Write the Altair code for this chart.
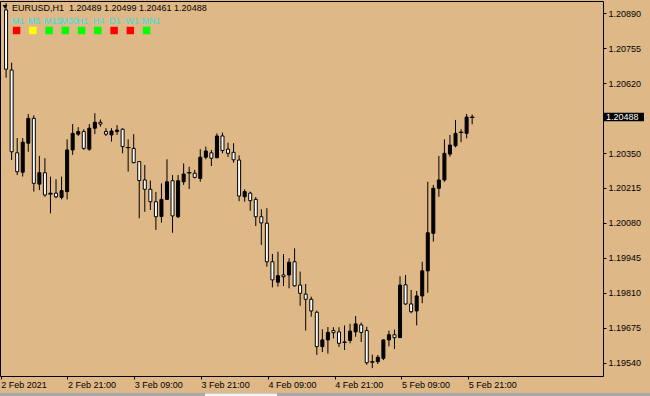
import altair as alt
import pandas as pd

# ---------------- data (EURUSD H1) ----------------
symbol_title = "EURUSD,H1\u00a0\u00a01.20489 1.20499 1.20461 1.20488"

opens = [1.20903, 1.20671, 1.20351, 1.20276, 1.20388, 1.20484, 1.20230, 1.20274, 1.20195, 1.20195,
         1.20179, 1.20201, 1.20362, 1.20423, 1.20433, 1.20365, 1.20446, 1.20469, 1.20433, 1.20420,
         1.20433, 1.20442, 1.20371, 1.20368, 1.20317, 1.20246, 1.20210, 1.20162, 1.20105, 1.20171,
         1.20243, 1.20104, 1.20239, 1.20274, 1.20272, 1.20252, 1.20334, 1.20351, 1.20332, 1.20416,
         1.20365, 1.20353, 1.20323, 1.20181, 1.20195, 1.20171, 1.20104, 1.20079, 1.19930, 1.19851,
         1.19879, 1.19879, 1.19930, 1.19840, 1.19805, 1.19785, 1.19735, 1.19602, 1.19628, 1.19664,
         1.19659, 1.19619, 1.19626, 1.19659, 1.19686, 1.19664, 1.19543, 1.19544, 1.19557, 1.19628,
         1.19648, 1.19637, 1.19841, 1.19767, 1.19740, 1.19798, 1.19895, 1.20040, 1.20214, 1.20246,
         1.20346, 1.20378, 1.20430, 1.20426, 1.20489]
highs = [1.20930, 1.20699, 1.20408, 1.20408, 1.20501, 1.20496, 1.20339, 1.20330, 1.20259, 1.20249,
         1.20259, 1.20403, 1.20462, 1.20450, 1.20442, 1.20462, 1.20504, 1.20480, 1.20446, 1.20446,
         1.20458, 1.20446, 1.20403, 1.20423, 1.20319, 1.20304, 1.20244, 1.20200, 1.20233, 1.20326,
         1.20265, 1.20265, 1.20310, 1.20297, 1.20285, 1.20365, 1.20375, 1.20362, 1.20426, 1.20429,
         1.20390, 1.20388, 1.20341, 1.20210, 1.20201, 1.20180, 1.20133, 1.20137, 1.19960, 1.19969,
         1.19960, 1.19943, 1.19982, 1.19892, 1.19844, 1.19795, 1.19741, 1.19669, 1.19678, 1.19677,
         1.19677, 1.19684, 1.19690, 1.19720, 1.19695, 1.19679, 1.19571, 1.19570, 1.19630, 1.19664,
         1.19668, 1.19874, 1.19879, 1.19821, 1.19817, 1.19930, 1.20239, 1.20227, 1.20339, 1.20403,
         1.20420, 1.20478, 1.20442, 1.20501, 1.20499]
lows = [1.20641, 1.20323, 1.20265, 1.20259, 1.20355, 1.20201, 1.20207, 1.20181, 1.20117, 1.20175,
        1.20171, 1.20171, 1.20343, 1.20416, 1.20362, 1.20359, 1.20423, 1.20452, 1.20416, 1.20394,
        1.20420, 1.20349, 1.20278, 1.20310, 1.20098, 1.20123, 1.20130, 1.20053, 1.20081, 1.20169,
        1.20042, 1.20099, 1.20227, 1.20211, 1.20252, 1.20239, 1.20326, 1.20300, 1.20330, 1.20349,
        1.20335, 1.20313, 1.20164, 1.20162, 1.20127, 1.20068, 1.19995, 1.19911, 1.19831, 1.19834,
        1.19836, 1.19827, 1.19834, 1.19760, 1.19664, 1.19718, 1.19570, 1.19581, 1.19575, 1.19634,
        1.19601, 1.19589, 1.19615, 1.19640, 1.19620, 1.19532, 1.19519, 1.19535, 1.19550, 1.19603,
        1.19593, 1.19635, 1.19763, 1.19731, 1.19684, 1.19770, 1.19810, 1.20008, 1.20181, 1.20239,
        1.20336, 1.20372, 1.20392, 1.20407, 1.20461]
closes = [1.20674, 1.20355, 1.20278, 1.20392, 1.20484, 1.20233, 1.20274, 1.20188, 1.20192, 1.20181,
          1.20205, 1.20362, 1.20426, 1.20433, 1.20368, 1.20446, 1.20469, 1.20462, 1.20423, 1.20435,
          1.20439, 1.20375, 1.20371, 1.20313, 1.20244, 1.20210, 1.20162, 1.20104, 1.20171, 1.20239,
          1.20107, 1.20243, 1.20269, 1.20274, 1.20256, 1.20334, 1.20358, 1.20330, 1.20416, 1.20360,
          1.20349, 1.20324, 1.20184, 1.20201, 1.20166, 1.20104, 1.20080, 1.19930, 1.19860, 1.19876,
          1.19872, 1.19928, 1.19837, 1.19808, 1.19785, 1.19740, 1.19602, 1.19628, 1.19657, 1.19656,
          1.19615, 1.19619, 1.19662, 1.19690, 1.19657, 1.19540, 1.19543, 1.19561, 1.19628, 1.19648,
          1.19637, 1.19840, 1.19767, 1.19737, 1.19798, 1.19895, 1.20042, 1.20214, 1.20246, 1.20349,
          1.20381, 1.20426, 1.20430, 1.20489, 1.20488]

time_labels = ["2 Feb 2021", "2 Feb 21:00", "3 Feb 09:00", "3 Feb 21:00",
               "4 Feb 09:00", "4 Feb 21:00", "5 Feb 09:00", "5 Feb 21:00"]
hours_per_label = 12
price_ticks = [1.19540, 1.19675, 1.19810, 1.19945, 1.20080, 1.20215,
               1.20350, 1.20620, 1.20755, 1.20890]
price_range = [1.194886, 1.209375]
bar_slots = [-0.195, 106.68]      # visible bar slots across the plot
hour_span = [-0.126, 108.2]       # visible hours across the plot (time axis)

timeframes = ["M1", "M5", "M15", "M30", "H1", "H4", "D1", "W1", "MN1"]
tf_colors = ["#FF0000", "#FFFF00", "#00FF00", "#00FF00", "#00FF00",
             "#00FF00", "#FF0000", "#FF0000", "#00FF00"]

BG = "#DEB887"
FONT = "Liberation Sans"

# ---------------- frames ----------------
n = len(closes)
df = pd.DataFrame({"idx": list(range(n)), "open": opens, "high": highs,
                   "low": lows, "close": closes})
df["fill"] = ["#000000" if c >= o else "#FFFFFF" for o, c in zip(opens, closes)]
df["doji"] = [abs(c - o) < 0.00003 for o, c in zip(opens, closes)]

last = pd.DataFrame({"price": [closes[-1]], "label": [f"{closes[-1]:.5f}"]})
tf_df = pd.DataFrame({"i": list(range(len(timeframes))), "tf": timeframes, "color": tf_colors})
title_df = pd.DataFrame({"t": [symbol_title]})
hours_df = pd.DataFrame({"h": [i * hours_per_label for i in range(len(time_labels))],
                         "lab": time_labels})

label_expr = ("[" + ",".join(f"'{s}'" for s in time_labels) +
              f"][round(datum.value/{hours_per_label})]")

x_bar = alt.X("idx:Q", scale=alt.Scale(domain=bar_slots, nice=False, zero=False), axis=None)
y_scale = alt.Scale(domain=price_range, nice=False, zero=False)
y_enc = alt.Y("low:Q", scale=y_scale,
              axis=alt.Axis(orient="right", values=price_ticks, format=".5f", title=None,
                            grid=False, domain=False, tickSize=3, tickColor="black",
                            labelPadding=2, labelFlush=False, labelOverlap=False,
                            labelBound=False))

base = alt.Chart(df)
wicks = base.mark_rule(color="black", strokeWidth=1).encode(x=x_bar, y=y_enc, y2="high:Q")
bodies = base.mark_bar(size=3, stroke="black", strokeWidth=1).encode(
    x="idx:Q", y=alt.Y("open:Q", scale=y_scale), y2="close:Q",
    fill=alt.Fill("fill:N", scale=None))
dojis = base.transform_filter("datum.doji").mark_tick(
    color="black", thickness=1, size=5, orient="horizontal").encode(
    x="idx:Q", y=alt.Y("close:Q", scale=y_scale))

price_box = alt.Chart(last).mark_rect(color="black", yOffset=-4.5, y2Offset=4).encode(
    x=alt.value(604), x2=alt.value(644), y=alt.Y("price:Q", scale=y_scale), y2="price:Q")
price_txt = alt.Chart(last).mark_text(color="white", align="left", baseline="middle",
                                      font=FONT, fontSize=9).encode(
    x=alt.value(606), y=alt.Y("price:Q", scale=y_scale), text="label:N")

main = alt.layer(wicks, bodies, dojis, price_box, price_txt)

time_axis = alt.Chart(hours_df).mark_point(opacity=0).encode(
    x=alt.X("h:Q", scale=alt.Scale(domain=hour_span, nice=False, zero=False),
            axis=alt.Axis(orient="bottom", values=hours_df["h"].tolist(),
                          labelExpr=label_expr, title=None,
                          grid=False, domain=False, tickSize=3, tickColor="black",
                          labelAlign="left", labelBaseline="top", labelPadding=1,
                          labelFlush=False, labelOverlap=False, labelBound=False)),
    y=alt.value(370))

tri = alt.Chart(title_df).mark_point(shape="triangle-down", filled=True, color="black",
                                     size=22, opacity=1).encode(x=alt.value(5), y=alt.value(6))
title_txt = alt.Chart(title_df).mark_text(align="left", baseline="middle", font=FONT,
                                          fontSize=9, color="black").encode(
    x=alt.value(12), y=alt.value(6.5), text="t:N")

tf_x = alt.X("i:Q", scale=alt.Scale(domain=[0, len(timeframes) - 1], range=[16.6, 146.6]),
             axis=None)
tf_sq = alt.Chart(tf_df).mark_square(size=56, opacity=1, filled=True).encode(
    x=tf_x, y=alt.value(29.5), color=alt.Color("color:N", scale=None))
tf_txt = alt.Chart(tf_df).mark_text(align="left", baseline="middle", font=FONT, fontSize=9,
                                    color="#33E0E0", dx=-5).encode(
    x=tf_x, y=alt.value(19.7), text="tf:N")

# window chrome: tab strip along the bottom edge
strip = alt.Chart(title_df).mark_rect(color="#A8A8A8").encode(
    x=alt.value(0), x2=alt.value(650), y=alt.value(392), y2=alt.value(396))
tab = alt.Chart(title_df).mark_rect(color="#F4F4F4").encode(
    x=alt.value(205), x2=alt.value(277), y=alt.value(392.5), y2=alt.value(396))

chart = alt.layer(main, time_axis, tri, title_txt, tf_sq, tf_txt, strip, tab).resolve_scale(
    x="independent"
).properties(
    width=603, height=375, background=BG,
    autosize=alt.AutoSizeParams(type="none"),
    padding={"left": 0, "top": 1, "right": 47, "bottom": 20},
).configure_view(stroke="black", strokeWidth=1, fill=BG).configure_axis(
    labelFont=FONT, labelFontSize=9, labelColor="black")

chart.save("out.html", embed_options={"renderer": "svg", "actions": False})
